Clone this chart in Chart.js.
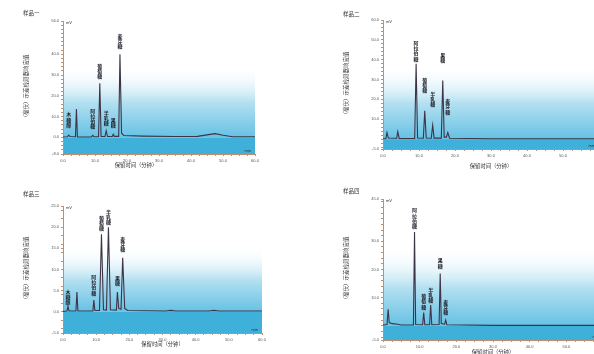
<!DOCTYPE html>
<html>
<head>
<meta charset="utf-8">
<script src="https://cdn.jsdelivr.net/npm/chart.js@4"></script>
<style>
  html, body { margin: 0; padding: 0; background: #fff; width: 594px; height: 354px; overflow: hidden; position: relative; }
  canvas { position: absolute; }
</style>
</head>
<body>
<canvas id="c1"></canvas>
<canvas id="c2"></canvas>
<canvas id="c3"></canvas>
<canvas id="c4"></canvas>
<script>
// 样品一
const time1 = [0, 1.4, 1.8, 2.2, 3.9, 4.2, 4.5, 8.9, 9.3, 9.7, 11.1, 11.5, 11.9, 13.1, 13.5, 13.9, 15.4, 15.7, 16.0, 17.4, 17.8, 18.3, 19.0, 25, 35, 42, 45, 47.5, 50, 53, 60];
const signal1 = [0.2, 0.3, 1.1, 0.4, 0.3, 13.6, 0.2, 0.2, 1.0, 0.3, 0.3, 26.0, 0.4, 0.4, 3.2, 0.4, 0.4, 1.5, 0.5, 0.5, 40.0, 2.0, 0.9, 0.6, 0.4, 0.5, 1.2, 1.8, 1.0, 0.3, 0.3];
const peakTime1 = [1.8, 9.3, 11.5, 13.5, 15.7, 17.8];
const peakLabelY1 = [4.8, 4.0, 28.2, 5.6, 4.8, 42.7];
const peakName1 = ['木糖醇', '阿拉伯糖', '葡萄糖', '半乳糖', '果糖', '麦芽糖'];
const yLabels1 = [-8, 0, 10, 20, 30, 40, 56];

// 样品二
const time2 = [0, 0.8, 1.1, 1.5, 3.8, 4.1, 4.5, 8.8, 9.2, 9.6, 11.2, 11.6, 12.0, 13.4, 13.8, 14.2, 16.2, 16.6, 17.0, 17.6, 18.0, 18.5, 30, 60];
const signal2 = [0.2, 0.3, 3.3, 0.5, 0.4, 3.7, 0.3, 0.3, 38.0, 0.5, 0.4, 14.2, 0.5, 0.4, 7.0, 0.5, 0.5, 29.5, 1.0, 1.0, 3.3, 0.4, 0.2, 0.2];
const peakTime2 = [9.2, 11.6, 13.8, 16.6, 18.0];
const peakLabelY2 = [39.2, 23.3, 16.3, 38.3, 12.5];
const peakName2 = ['阿拉伯糖', '葡萄糖', '半乳糖', '果糖', '麦芽糖'];
const yLabels2 = [-5, 10, 20, 30, 40, 50, 60];

// 样品三
const time3 = [0, 1.2, 1.5, 1.8, 3.9, 4.2, 4.5, 9.0, 9.3, 9.6, 11.0, 11.6, 12.2, 13.1, 13.7, 14.3, 16.1, 16.4, 16.8, 17.5, 18.0, 18.6, 19.5, 31, 32.5, 34, 44, 45.5, 47, 60];
const signal3 = [0.1, 0.2, 1.3, 0.2, 0.2, 4.7, 0.2, 0.2, 2.8, 0.3, 0.3, 18.3, 0.5, 0.4, 20.0, 0.5, 0.4, 4.7, 0.8, 0.6, 12.8, 0.8, 0.3, 0.2, 0.35, 0.2, 0.2, 0.35, 0.2, 0.2];
const peakTime3 = [1.5, 9.3, 11.6, 13.7, 16.4, 18.0];
const peakLabelY3 = [1.7, 3.9, 19.1, 20.6, 6.2, 14.2];
const peakName3 = ['木糖醇', '阿拉伯糖', '葡萄糖', '半乳糖', '果糖', '麦芽糖'];
const yLabels3 = [-5, 0, 5, 10, 15, 20, 25];

// 样品四
const time4 = [0, 1.1, 1.4, 1.7, 2.5, 4.0, 5.0, 8.3, 8.6, 8.9, 10.8, 11.1, 11.4, 12.7, 13.0, 13.3, 15.3, 15.6, 15.9, 16.8, 17.1, 17.4, 30, 60];
const signal4 = [0.3, 0.5, 5.9, 1.2, 0.8, 0.6, 0.3, 0.3, 33.3, 0.5, 0.4, 4.7, 0.4, 0.4, 7.4, 0.4, 0.5, 18.6, 0.8, 0.6, 2.1, 0.4, 0.2, 0.2];
const peakTime4 = [8.6, 11.1, 13.0, 15.6, 17.1];
const peakLabelY4 = [34.5, 5.9, 8.2, 20.4, 3.9];
const peakName4 = ['阿拉伯糖', '葡萄糖', '半乳糖', '果糖', '麦芽糖'];
const yLabels4 = [-5, 10, 20, 30, 45];

const xLabels = [0, 10, 20, 30, 40, 50, 60];
const yTitle = '（毫伏）示差检测器响应值';
const xTitle = '保留时间（分钟）';

const axisColor = '#c09070';
const traceColor = '#3d3446';
const padTop = 16, yAxisW = 48, xAxisH = 20, padRight = 6;

// plot boxes [left, top, right, bottom] in page pixels
const panels = [
  { id: 'c1', title: '样品一', box: [63, 21, 255, 154], yMin: -8, yMax: 56, t: time1, v: signal1,
    pt: peakTime1, py: peakLabelY1, pn: peakName1, yl: yLabels1, titleDy: -8, xtDy: 11, xtX: 136 },
  { id: 'c2', title: '样品二', box: [383, 20, 599, 149], yMin: -5, yMax: 60, t: time2, v: signal2,
    pt: peakTime2, py: peakLabelY2, pn: peakName2, yl: yLabels2, titleDy: -6, xtDy: 17 },
  { id: 'c3', title: '样品三', box: [63, 206, 262, 333], yMin: -5, yMax: 25, t: time3, v: signal3,
    pt: peakTime3, py: peakLabelY3, pn: peakName3, yl: yLabels3, titleDy: -12, xtDy: 11 },
  { id: 'c4', title: '样品四', box: [383, 199, 603, 340], yMin: -5, yMax: 45, t: time4, v: signal4,
    pt: peakTime4, py: peakLabelY4, pn: peakName4, yl: yLabels4, titleDy: -8, xtDy: 12 },
];

function minorTicks(min, max, step) {
  const out = [];
  for (let v = Math.ceil(min / step) * step; v <= max + 1e-9; v += step) out.push(+v.toFixed(3));
  return out;
}

const decor = {
  id: 'decor',
  beforeDraw(chart, args, o) {
    const { ctx, chartArea: a } = chart;
    const y0 = chart.scales.y.getPixelForValue(0);
    const g = ctx.createLinearGradient(0, a.top, 0, y0);
    g.addColorStop(0, 'rgba(255,255,255,0)');
    g.addColorStop(0.38, 'rgba(255,255,255,0)');
    g.addColorStop(0.7, '#b3e0f1');
    g.addColorStop(1, '#66c1e4');
    ctx.save();
    ctx.fillStyle = g;
    ctx.fillRect(a.left, a.top, a.right - a.left, y0 - a.top);
    ctx.fillStyle = '#3eb0da';
    ctx.fillRect(a.left, y0, a.right - a.left, a.bottom - y0);
    ctx.restore();
  },
  afterDraw(chart, args, o) {
    const { ctx, chartArea: a, scales: { x, y } } = chart;
    const p = o.panel;
    ctx.save();
    ctx.fillStyle = '#333';
    ctx.textBaseline = 'middle';
    // panel title
    ctx.font = '5.5px "Noto Sans CJK SC"';
    ctx.textAlign = 'left';
    ctx.fillText(p.title, a.left - 40, a.top + p.titleDy);
    // unit marks
    ctx.font = '4px "Liberation Sans"';
    ctx.fillText('mV', a.left + 3, a.top + 2);
    ctx.textAlign = 'right';
    ctx.fillText('min', a.right - 4, a.bottom - 3);
    // x title
    ctx.textAlign = 'center';
    ctx.font = '5.3px "Noto Sans CJK SC"';
    ctx.fillText(xTitle, p.xtX !== undefined ? p.xtX - p.box[0] + a.left : (a.left + a.right) / 2, a.bottom + p.xtDy);
    // y title
    ctx.save();
    ctx.translate(a.left - 37, (a.top + a.bottom) / 2);
    ctx.rotate(-Math.PI / 2);
    ctx.font = '5.5px "Noto Sans CJK SC"';
    ctx.fillText(yTitle, 0, 0);
    ctx.restore();
    // peak names, stacked vertically
    ctx.font = 'bold 5px "Noto Sans CJK SC"';
    ctx.fillStyle = '#1e1e28';
    p.pt.forEach((t, i) => {
      const px = x.getPixelForValue(t);
      const pb = y.getPixelForValue(p.py[i]);
      const chars = [...p.pn[i]];
      chars.forEach((c, k) => {
        ctx.fillText(c, px, pb - (chars.length - k - 0.5) * 5.2);
      });
    });
    ctx.restore();
  }
};

panels.forEach(p => {
  const [L, T, R, B] = p.box;
  const cv = document.getElementById(p.id);
  const w = R - L + yAxisW + padRight;
  const h = B - T + padTop + xAxisH;
  cv.width = w; cv.height = h;
  cv.style.left = (L - yAxisW) + 'px';
  cv.style.top = (T - padTop) + 'px';
  cv.style.width = w + 'px';
  cv.style.height = h + 'px';

  const yMinor = minorTicks(p.yMin, p.yMax, 2).filter(v => !p.yl.includes(v)).concat(p.yl).sort((a, b) => a - b);
  const xMinor = minorTicks(0, 60, 2.5).filter(v => !xLabels.includes(v)).concat(xLabels).sort((a, b) => a - b);

  new Chart(cv.getContext('2d'), {
    type: 'line',
    data: {
      datasets: [{
        data: p.t.map((t, i) => ({ x: t, y: p.v[i] })),
        borderColor: traceColor,
        borderWidth: 1.1,
        pointRadius: 0,
        tension: 0,
        fill: false,
      }],
    },
    options: {
      responsive: false,
      animation: false,
      devicePixelRatio: 1,
      layout: { padding: { top: padTop, right: padRight, left: 0, bottom: 0 } },
      plugins: {
        legend: { display: false },
        tooltip: { enabled: false },
        decor: { panel: p },
      },
      scales: {
        x: {
          type: 'linear',
          min: 0,
          max: 60,
          afterBuildTicks: s => { s.ticks = xMinor.map(v => ({ value: v })); },
          afterFit: s => { s.height = xAxisH; },
          grid: { drawOnChartArea: false, tickLength: 2, color: axisColor },
          border: { color: axisColor, width: 1 },
          ticks: {
            autoSkip: false,
            maxRotation: 0,
            padding: 2,
            color: '#555',
            font: { size: 4, family: 'Liberation Sans' },
            callback: v => xLabels.includes(v) ? v.toFixed(1) : '',
          },
        },
        y: {
          min: p.yMin,
          max: p.yMax,
          afterBuildTicks: s => { s.ticks = yMinor.map(v => ({ value: v })); },
          afterFit: s => { s.width = yAxisW; },
          grid: { drawOnChartArea: false, tickLength: 2, color: axisColor },
          border: { color: axisColor, width: 1 },
          ticks: {
            autoSkip: false,
            padding: 2,
            color: '#555',
            font: { size: 4, family: 'Liberation Sans' },
            callback: v => p.yl.includes(v) ? v.toFixed(1) : '',
          },
        },
      },
    },
    plugins: [decor],
  });
});
</script>
</body>
</html>
